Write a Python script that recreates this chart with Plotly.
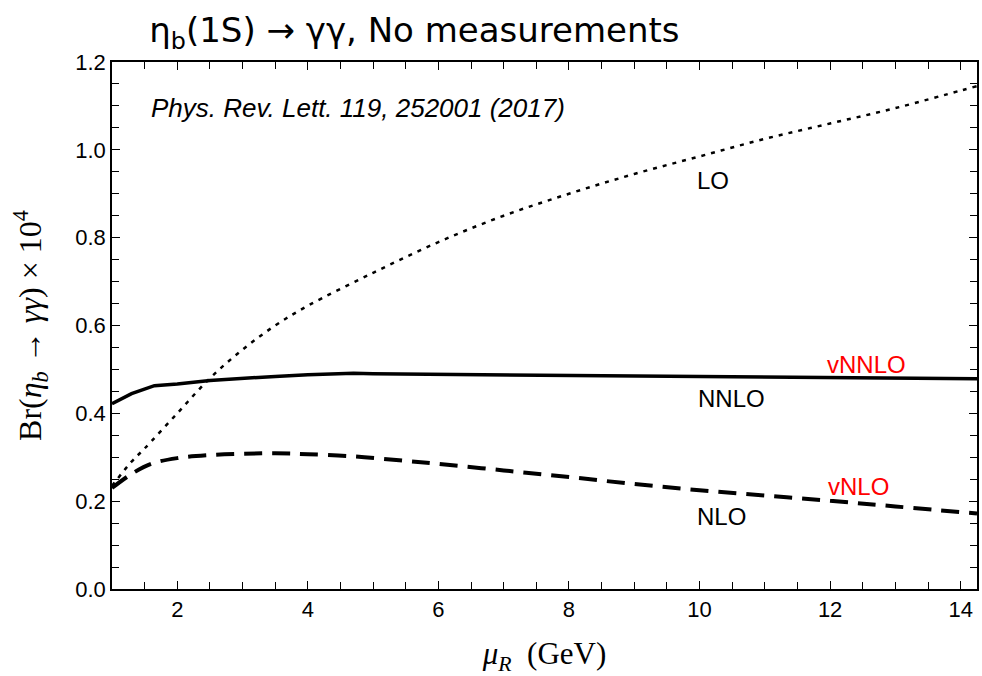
import plotly.graph_objects as go

# LO (dotted)
lo_x = [1.0, 1.3, 1.5, 2.0, 2.5, 3.0, 3.5, 4.0, 5.0, 6.0, 7.0, 8.0, 9.0, 10.0, 11.0, 12.0, 13.0, 14.0, 14.25]
lo_y = [0.235, 0.29, 0.32, 0.40, 0.48, 0.545, 0.60, 0.645, 0.72, 0.79, 0.85, 0.90, 0.945, 0.985, 1.025, 1.06, 1.095, 1.135, 1.145]

# NNLO (solid)
nnlo_x = [1.0, 1.3, 1.65, 2.0, 2.5, 3.0, 3.5, 4.0, 4.7, 5.0, 6.0, 8.0, 10.0, 12.0, 14.25]
nnlo_y = [0.422, 0.445, 0.463, 0.467, 0.475, 0.48, 0.484, 0.488, 0.491, 0.490, 0.489, 0.487, 0.485, 0.482, 0.479]

# NLO (dashed)
nlo_x = [1.0, 1.3, 1.6, 2.0, 2.5, 3.0, 3.5, 4.0, 4.7, 5.4, 6.0, 7.0, 8.0, 9.0, 10.0, 11.0, 12.0, 13.0, 14.25]
nlo_y = [0.23, 0.262, 0.285, 0.298, 0.305, 0.308, 0.309, 0.307, 0.302, 0.293, 0.285, 0.27, 0.255, 0.239, 0.225, 0.213, 0.201, 0.188, 0.172]

labels = [("LO", 10.21, 0.931, "black"), ("NNLO", 10.49, 0.433, "black"), ("NLO", 10.34, 0.165, "black"),
          ("vNNLO", 12.56, 0.512, "red"), ("vNLO", 12.43, 0.233, "red")]

fig = go.Figure()
fig.add_trace(go.Scatter(x=lo_x, y=lo_y, mode="lines", line=dict(color="black", width=2.5, dash="4px,6px", shape="spline"), showlegend=False))
fig.add_trace(go.Scatter(x=nnlo_x, y=nnlo_y, mode="lines", line=dict(color="black", width=3.5, shape="linear"), showlegend=False))
fig.add_trace(go.Scatter(x=nlo_x, y=nlo_y, mode="lines", line=dict(color="black", width=4, dash="18px,10px", shape="spline"), showlegend=False))

for t, x, y, c in labels:
    fig.add_annotation(x=x, y=y, text=t, showarrow=False, xanchor="center", yanchor="middle",
                       font=dict(family="Liberation Sans", size=24, color=c))

fig.add_annotation(xref="paper", yref="paper", x=0.043, y=0.9127, text="<i>Phys. Rev. Lett. 119, 252001 (2017)</i>",
                   showarrow=False, xanchor="left", yanchor="middle",
                   font=dict(family="Liberation Sans", size=26, color="black"))

axis_common = dict(showline=True, linecolor="black", linewidth=1.5, mirror="ticks", ticks="inside",
                   ticklen=8, tickwidth=1.2, tickcolor="black", showgrid=False, zeroline=False,
                   tickfont=dict(family="Liberation Sans", size=22, color="black"))

fig.update_layout(
    width=982, height=676,
    margin=dict(l=112, r=3, t=62, b=87),
    paper_bgcolor="white", plot_bgcolor="white",
    title=dict(text="η<sub>b</sub>(1S) → γγ, No measurements", x=0.152, xanchor="left",
               y=0.9556, yref="container", yanchor="middle",
               font=dict(family="DejaVu Sans", size=34, color="black")),
    xaxis=dict(range=[1, 14.25], tick0=0, dtick=2, **axis_common,
               minor=dict(dtick=0.5, tick0=0, ticks="inside", ticklen=7, tickcolor="black", tickwidth=1.2),
               title=dict(text="<i>μ<sub>R</sub></i>  (GeV)", standoff=22,
                          font=dict(family="Liberation Serif", size=31, color="black"))),
    yaxis=dict(range=[0, 1.2], tick0=0, dtick=0.2, tickformat=".1f", **axis_common,
               minor=dict(dtick=0.05, tick0=0, ticks="inside", ticklen=7, tickcolor="black", tickwidth=1.2),
               title=dict(text="Br(<i>η<sub>b</sub></i> → <i>γγ</i>) × 10<sup>4</sup>", standoff=24,
                          font=dict(family="Liberation Serif", size=32, color="black"))),
)

fig.write_html("out.html")
